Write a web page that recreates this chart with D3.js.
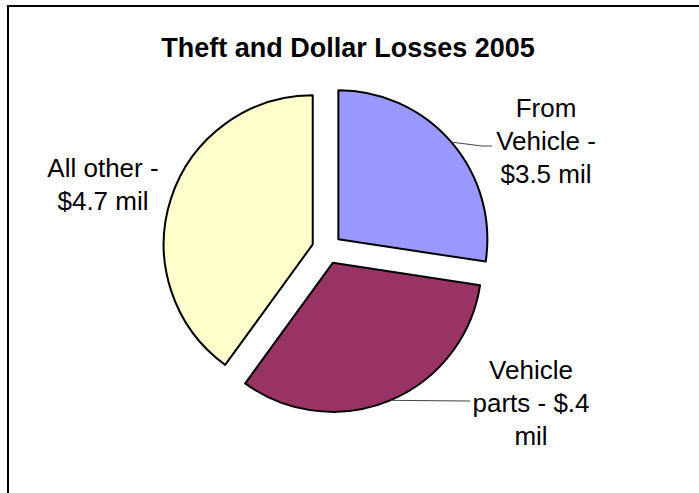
<!DOCTYPE html>
<html>
<head>
<meta charset="utf-8">
<script src="https://cdn.jsdelivr.net/npm/d3@7"></script>
<style>
  html, body { margin: 0; padding: 0; background: #fff; overflow: hidden; }
  svg { display: block; font-family: Arial, "Liberation Sans", sans-serif; }
</style>
</head>
<body>
<div id="chart"></div>
<script>
// data
const categories = ["From Vehicle", "Vehicle parts", "All other"];
const shares = [27.4, 32.6, 40.0];   // slice sizes as drawn (percent of the pie)
const labelLines = [
    ["From", "Vehicle -", "$3.5 mil"],
    ["Vehicle", "parts - $.4", "mil"],
    ["All other -", "$4.7 mil"]
];
const colors = ["#9999FF", "#993366", "#FFFFCC"];

const width = 699, height = 493;
const cx = 327, cy = 249, radius = 149, explode = 15;

// where each label block sits (center x, first baseline) and where its leader ends
const labelPos = [
    {x: 546, y: 117, leader: [[482, 146], [492, 146]]},
    {x: 531, y: 379, leader: [[470, 401]]},
    {x: 103, y: 177, leader: null}
];
const lineStep = 33;

const svg = d3.select('#chart').append('svg')
    .attr('width', width)
    .attr('height', height);

// outer frame (right and bottom fall outside the picture)
svg.append('rect')
    .attr('x', 8)
    .attr('y', 6)
    .attr('width', 760)
    .attr('height', 560)
    .attr('fill', '#fff')
    .attr('stroke', '#000')
    .attr('stroke-width', 2);

svg.append('text')
    .attr('x', 348)
    .attr('y', 57)
    .attr('text-anchor', 'middle')
    .style('font-size', '27px')
    .style('font-weight', 'bold')
    .text('Theft and Dollar Losses 2005');

const data = categories.map((c, i) => ({name: c, value: shares[i], i}));

const pie = d3.pie()
    .sort(null)
    .value(d => d.value);

const arc = d3.arc()
    .innerRadius(0)
    .outerRadius(radius);

const arcs = pie(data);

const g = svg.append('g')
    .attr('transform', `translate(${cx},${cy})`);

function offset(d) {
    let mid = (d.startAngle + d.endAngle) / 2;
    return [Math.sin(mid) * explode, -Math.cos(mid) * explode];
}

g.selectAll('path.slice')
    .data(arcs)
    .enter()
    .append('path')
    .attr('class', 'slice')
    .attr('transform', d => `translate(${offset(d)})`)
    .attr('d', arc)
    .attr('fill', d => colors[d.data.i])
    .attr('stroke', '#000')
    .attr('stroke-width', 2)
    .attr('stroke-linejoin', 'round');

// leader lines
arcs.forEach((d, i) => {
    let lp = labelPos[i];
    if (!lp.leader) return;
    let mid = (d.startAngle + d.endAngle) / 2;
    let o = offset(d);
    let start = [cx + o[0] + Math.sin(mid) * radius, cy + o[1] - Math.cos(mid) * radius];
    let pts = [start].concat(lp.leader);
    svg.append('path')
        .attr('d', d3.line()(pts))
        .attr('fill', 'none')
        .attr('stroke', '#444')
        .attr('stroke-width', 1);
});

// labels
labelLines.forEach((lines, i) => {
    let lp = labelPos[i];
    let t = svg.append('text')
        .attr('text-anchor', 'middle')
        .style('font-size', '26px')
        .attr('fill', '#000');
    lines.forEach((s, k) => {
        t.append('tspan')
            .attr('x', lp.x)
            .attr('y', lp.y + k * lineStep)
            .text(s);
    });
});
</script>
</body>
</html>
